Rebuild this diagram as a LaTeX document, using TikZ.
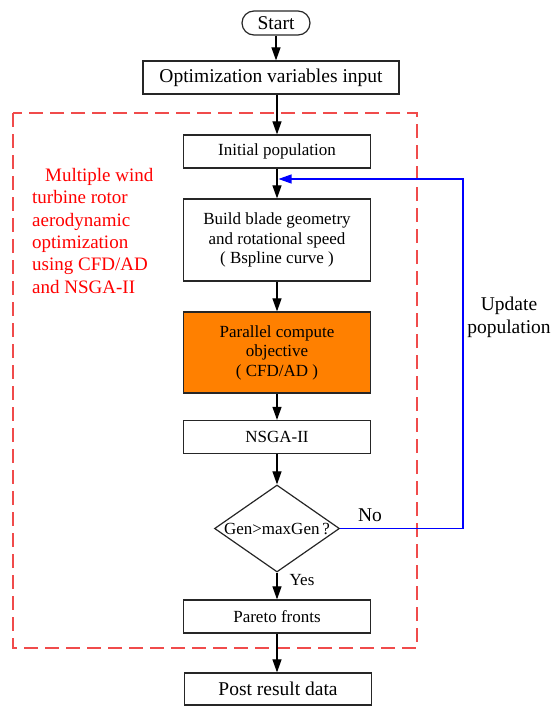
\documentclass[tikz,border=0pt]{standalone}
\usepackage{fontspec}
\setmainfont{Liberation Serif}
\usetikzlibrary{arrows.meta,shapes.geometric}

\definecolor{boxorange}{RGB}{255,128,0}
\definecolor{dashred}{RGB}{240,75,75}
\newcommand{\bigfont}{\fontsize{19.5}{23}\selectfont}
\newcommand{\boxfont}{\fontsize{17}{19.5}\selectfont}
\newcommand{\notefont}{\fontsize{19}{22.4}\selectfont}

\tikzset{
  proc/.style={draw=black!85, line width=1.2pt, rectangle, minimum width=187pt,
    minimum height=33pt, inner sep=0pt, align=center, font=\boxfont},
  arr/.style={-{Triangle[length=13pt,width=9pt]}, line width=1.1pt, black},
  back/.style={-{Triangle[length=13pt,width=9pt]}, line width=1.1pt, blue},
}

\begin{document}
\begin{tikzpicture}[x=1pt,y=-1pt]
      \useasboundingbox (0,0) rectangle (550,706);
      % dashed frame round the optimization loop
      \draw[dashred, line width=1.2pt, dash pattern=on 14pt off 7pt] (13,113) rectangle (417,648);
      \node[red, font=\notefont, align=left, anchor=north west, inner sep=0pt] (note) at (32,168)
        {\hspace*{13pt}Multiple wind\\turbine rotor\\aerodynamic\\optimization\\using CFD/AD\\and NSGA-II};

      \node[draw=black!85, line width=1.2pt, rounded corners=12pt, minimum width=68pt, minimum height=24pt,
        inner sep=0pt, font=\bigfont] (start) at (276,23) {Start};
      \node[proc, minimum width=256pt, font=\bigfont] (input) at (271,77.5) {Optimization variables input};
      \node[proc] (init) at (277,151.5) {Initial population};
      \node[proc, minimum height=82pt] (build) at (277,240) {Build blade geometry\\and rotational speed\\( Bspline curve )};
      \node[proc, fill=boxorange, minimum height=81pt] (objective) at (277,352.5) {Parallel compute\\objective\\( CFD/AD )};
      \node[proc] (nsga) at (277,437) {NSGA-II};
      \node[draw=black!85, diamond, line width=1.2pt, minimum width=125pt, minimum height=87pt,
        inner sep=0pt] (check) at (277,528.5) {};
      \node[font=\boxfont] (checktext) at (check.center) {Gen>maxGen\,?};
      \node[proc] (pareto) at (277,616.5) {Pareto fronts};
      \node[proc, minimum height=32pt, font=\bigfont] (post) at (278,689) {Post result data};

      % main flow
      \draw[arr] (start.south) -- (start.south |- input.north);
      \draw[arr] (input.south -| init.north) -- (init.north);
      \draw[arr] (init.south) -- (build.north);
      \draw[arr] (build.south) -- (objective.north);
      \draw[arr] (objective.south) -- (nsga.north);
      \draw[arr] (nsga.south) -- (check.north);
      \draw[arr] (check.south) -- (pareto.north);
      \draw[arr] (pareto.south) -- (pareto.south |- post.north);
      \node[font=\boxfont] (yes) at (302,580) {Yes};

      % feedback loop
      \coordinate (merge) at (278.5,179);
      \draw[back] (check.east) -- (463,528.5) coordinate (turn) |- (merge);
      \node[font=\bigfont] (no) at (370,515) {No};
      \node[font=\bigfont, align=center] (update) at (509,317) {Update\\population};
\end{tikzpicture}
\end{document}
